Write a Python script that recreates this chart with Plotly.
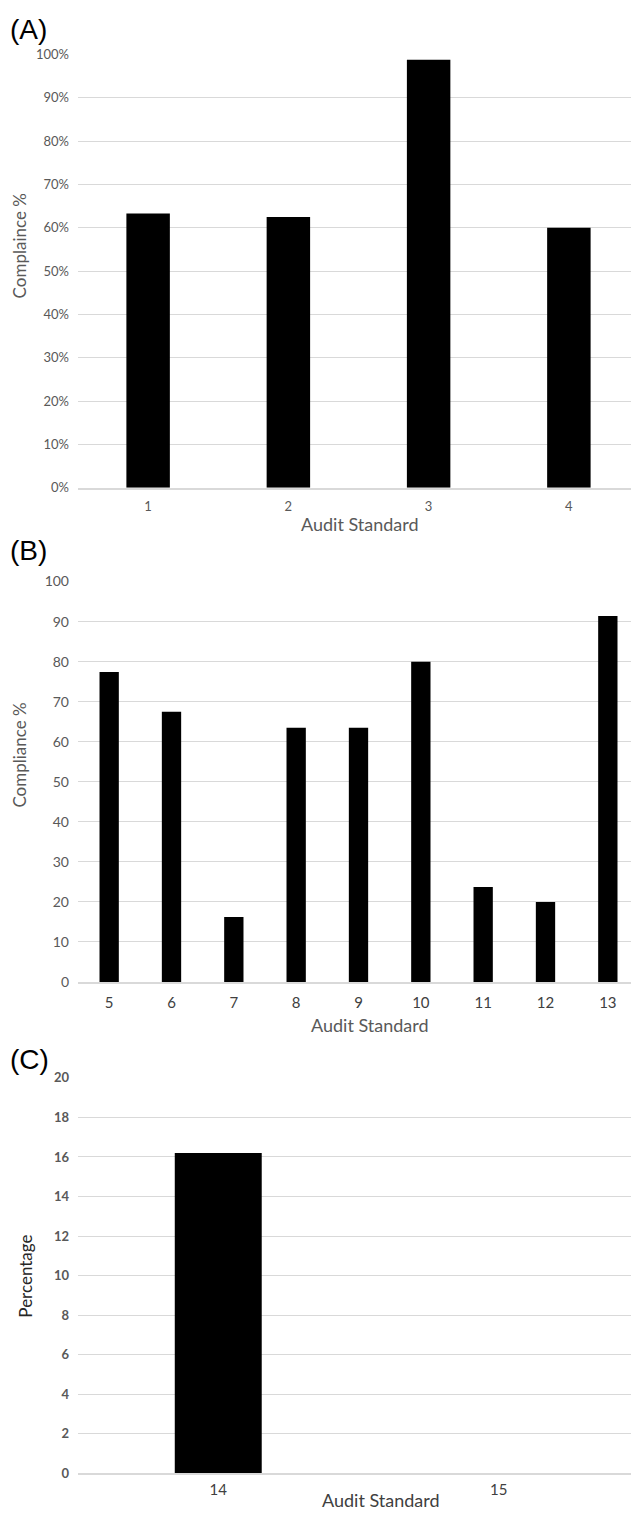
import plotly.graph_objects as go

# ---- data ----
cats_a = ["1", "2", "3", "4"]
vals_a = [63.3, 62.5, 98.8, 60.0]          # percent

cats_b = ["5", "6", "7", "8", "9", "10", "11", "12", "13"]
vals_b = [77.4, 67.5, 16.2, 63.5, 63.5, 80.0, 23.7, 20.0, 91.4]

cats_c = ["14", "15"]
vals_c = [16.2, 0.0]

ticks_a = [0, 10, 20, 30, 40, 50, 60, 70, 80, 90, 100]
ticklabels_a = [f"{t}%" for t in ticks_a]
ticks_b = [0, 10, 20, 30, 40, 50, 60, 70, 80, 90, 100]
ticks_c = [0, 2, 4, 6, 8, 10, 12, 14, 16, 18, 20]

# page has default 8px body margin -> figure placed at (8, 8)
OFF = 8
W, H = 631, 1507
FONT = "Lato, 'Open Sans', sans-serif"
GRID = "#d9d9d9"


def px_x(x):
    return (x - OFF) / W


def px_y(y):
    return 1 - (y - OFF) / H


fig = go.Figure()
bar_style = dict(marker=dict(color="black", line=dict(width=0)),
                 width=0.31, showlegend=False, hoverinfo="x+y")

fig.add_trace(go.Bar(x=cats_a, y=vals_a, xaxis="x", yaxis="y", **bar_style))
fig.add_trace(go.Bar(x=cats_b, y=vals_b, xaxis="x2", yaxis="y2", **bar_style))
fig.add_trace(go.Bar(x=cats_c, y=vals_c, xaxis="x3", yaxis="y3", **bar_style))

xdom = [px_x(78), 1.0]
doms = {
    "a": [px_y(484), px_y(46)],
    "b": [px_y(984), px_y(579)],
    "c": [px_y(1481), px_y(1081)],
}

common_x = dict(type="category", showgrid=False, zeroline=False,
                ticks="", fixedrange=True,
                showline=True, linecolor=GRID, linewidth=1.5)
common_y = dict(showgrid=True, gridcolor=GRID, gridwidth=1.3, zeroline=False,
                showline=False, ticks="", ticklabelstandoff=8, fixedrange=True)

fig.update_layout(
    width=W, height=H,
    margin=dict(l=0, r=0, t=0, b=0),
    paper_bgcolor="white", plot_bgcolor="white",
    font=dict(family=FONT, color="#595959"),
    xaxis=dict(domain=xdom, anchor="y", range=[-0.5, 3.5], ticklabelstandoff=6,
               tickfont=dict(size=13, color="#595959"), **common_x),
    yaxis=dict(domain=doms["a"], anchor="x", range=[0, 100],
               tickvals=ticks_a, ticktext=ticklabels_a,
               tickfont=dict(size=13, color="#595959"), **common_y),
    xaxis2=dict(domain=xdom, anchor="y2", range=[-0.5, 8.5], ticklabelstandoff=6,
                tickfont=dict(size=15, color="#404040"), **common_x),
    yaxis2=dict(domain=doms["b"], anchor="x2", range=[0, 100],
                tickvals=ticks_b,
                tickfont=dict(size=14, color="#595959"), **common_y),
    xaxis3=dict(domain=xdom, anchor="y3", range=[-0.5, 1.5], ticklabelstandoff=2,
                tickfont=dict(size=15, color="#404040"), **common_x),
    yaxis3=dict(domain=doms["c"], anchor="x3", range=[0, 20],
                tickvals=ticks_c,
                tickfont=dict(size=13, color="#595959", weight="bold"), **common_y),
)

ann = []
# panel labels
for txt, y in [("(A)", 21), ("(B)", 548), ("(C)", 1062)]:
    ann.append(dict(text=txt, x=px_x(8), y=px_y(y), xanchor="left", yanchor="middle",
                    font=dict(family="Liberation Sans, Arial, sans-serif", size=28, color="black")))
# x axis titles
for y, cx, col in [(521, 360, "#595959"), (1028, 370, "#595959"), (1508, 381, "#404040")]:
    ann.append(dict(text="Audit Standard", x=px_x(cx), y=px_y(y), xanchor="center",
                    yanchor="middle", font=dict(family=FONT, size=18, color=col)))
# y axis titles
for txt, cx, cy, col in [("Complaince %", 19, 240, "#595959"),
                         ("Compliance %", 20, 755, "#595959"),
                         ("Percentage", 26, 1282, "#262626")]:
    ann.append(dict(text=txt, x=px_x(cx), y=px_y(cy), xanchor="center", yanchor="middle",
                    textangle=-90, font=dict(family=FONT, size=17, color=col)))

fig.update_layout(annotations=[dict(a, xref="paper", yref="paper", showarrow=False) for a in ann])

fig.write_html("out.html")
